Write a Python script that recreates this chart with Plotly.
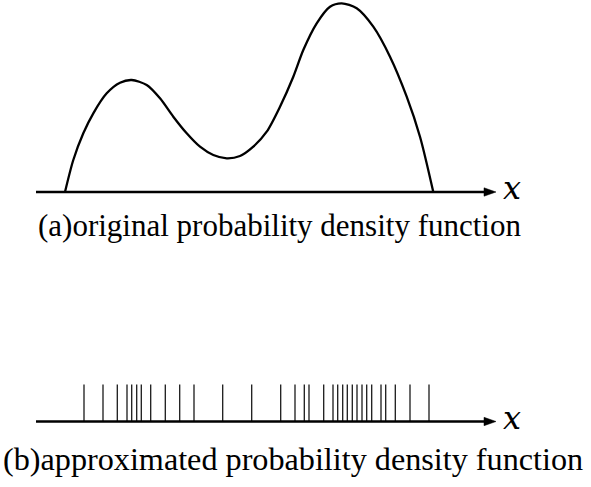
import plotly.graph_objects as go

pdf_x = [65, 73.3, 83.3, 93.3, 106.7, 120, 131.7, 146.7, 160, 173.3, 186.7, 200,
         213.3, 226.7, 240, 253.3, 266.7, 280, 293.3, 303.3, 316.7, 330, 341.7,
         356.7, 373.3, 390, 406.7, 420, 433.3]
pdf_h = [0, 32, 58.7, 78.7, 98.7, 109.3, 112, 107, 93.7, 75.3, 58.7, 45.3,
         37, 33.7, 36, 45.3, 60.3, 85.3, 115.3, 142, 168.7, 185.3, 188.7,
         183.7, 165.3, 135.3, 95.3, 55.3, 0]

# (b) approximated density: sample locations (equal weights)
sample_x = [84, 103, 117.3, 127, 131.7, 136.7, 141.3, 150.7, 165.3, 179.7, 194,
            222.7, 251.7, 280.7, 295, 304.3, 309, 323.7, 333, 337.7, 342.7,
            347.3, 352.3, 357, 362, 366.7, 371.7, 381, 385.7, 395.3, 410, 429]
sample_weight = 37

caption_a = "(a)original probability density function"
caption_b = "(b)approximated probability density function"
axis_label = "<i>x</i>"

W, H = 591, 487

fig = go.Figure()

fig.add_trace(go.Scatter(x=pdf_x, y=pdf_h, mode="lines",
                         line=dict(color="black", width=2.3, shape="spline", smoothing=0.8),
                         hoverinfo="skip", showlegend=False, yaxis="y", cliponaxis=False))

tx, ty = [], []
for s in sample_x:
    tx += [s, s, None]
    ty += [0, sample_weight, None]
fig.add_trace(go.Scatter(x=tx, y=ty, mode="lines",
                         line=dict(color="#1a1a1a", width=1.3),
                         hoverinfo="skip", showlegend=False, yaxis="y2"))

# axes with arrows
x0, x1 = 36, 486
for yr in ["y", "y2"]:
    fig.add_shape(type="line", xref="x", yref=yr, x0=x0, x1=x1, y0=0, y1=0,
                  line=dict(color="black", width=2.3))
    fig.add_shape(type="path", xref="x", yref=yr,
                  path="M 484,-4.2 L 496,0 L 484,4.2 Z",
                  fillcolor="black", line=dict(color="black", width=0.5))

serif = "Liberation Serif"
for yr in ["y", "y2"]:
    fig.add_annotation(x=512, y=0, xref="x", yref=yr, text=axis_label, showarrow=False,
                       font=dict(family="DejaVu Serif", size=32, color="black"),
                       xanchor="center", yanchor="middle", yshift=4)
# captions
fig.add_annotation(x=279 / W, y=1 - 225 / H, xref="paper", yref="paper",
                   text=caption_a, showarrow=False,
                   font=dict(family=serif, size=31, color="black"),
                   xanchor="center", yanchor="middle")
fig.add_annotation(x=293 / W, y=1 - 459 / H, xref="paper", yref="paper",
                   text=caption_b, showarrow=False,
                   font=dict(family=serif, size=32.2, color="black"),
                   xanchor="center", yanchor="middle")

fig.update_layout(
    width=W, height=H,
    margin=dict(l=0, r=0, t=0, b=0),
    paper_bgcolor="white", plot_bgcolor="white",
    xaxis=dict(range=[0, W], visible=False, fixedrange=True),
    yaxis=dict(range=[-(H - 192), 192], visible=False, fixedrange=True),
    yaxis2=dict(range=[-(H - 421.5), 421.5], visible=False,
                overlaying="y", fixedrange=True),
    hovermode=False,
)
fig.write_html("out.html", config={"displayModeBar": False},
               post_script="document.body.style.margin='0';document.body.style.overflow='hidden';")
